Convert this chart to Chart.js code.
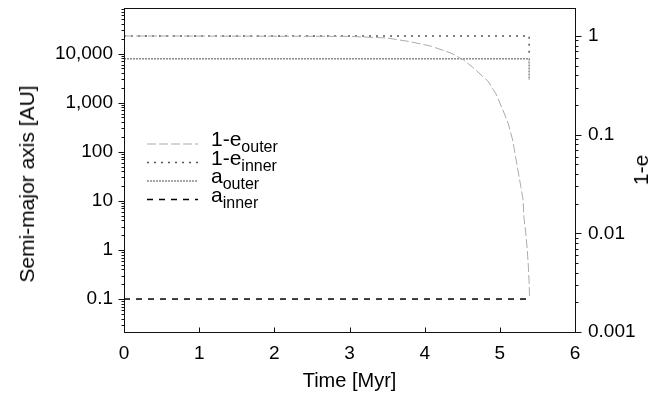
<!DOCTYPE html>
<html>
<head>
<meta charset="utf-8">
<script src="https://cdn.jsdelivr.net/npm/chart.js@4.4.1/dist/chart.umd.min.js"></script>
<style>
body{margin:0;background:#fff;}
#wrap{position:relative;width:663px;height:393px;font-family:'Liberation Sans',Arial,sans-serif;color:#000;}
.lg{position:absolute;left:211px;font-size:21px;line-height:21px;white-space:nowrap;}
.lg sub{font-size:16px;vertical-align:-6px;line-height:0;}
.vt{position:absolute;font-size:21px;white-space:nowrap;transform:translate(-50%,-50%) rotate(-90deg);}
#ytitle{left:27px;top:184px;}
#y2title{left:641px;top:170px;}
</style>
</head>
<body>
<div id="wrap">
<canvas id="myChart" width="663" height="393"></canvas>
<div class="vt" id="ytitle">Semi-major axis [AU]</div>
<div class="vt" id="y2title">1-e</div>
</div>
<script>
// time [Myr] and values
const eOuterT=[0,3.0,3.5,3.8,4.08,4.35,4.52,4.65,4.84,4.95,5.04,5.11,5.17,5.21,5.24,5.28,5.31,5.32,5.345,5.365,5.38,5.39,5.395];
const eOuter=[1.0,0.99,0.953,0.877,0.79,0.671,0.57,0.473,0.35,0.258,0.178,0.131,0.0884,0.0595,0.0439,0.0296,0.0218,0.0147,0.0101,0.00681,0.00458,0.00316,0.00222];
const eInnerT=[0,5.39,5.39];
const eInner=[1.0,1.0,0.6];
const aOuterT=[0,5.39,5.39];
const aOuter=[7900,7900,2900];
const aInnerT=[0,5.39];
const aInner=[0.1,0.1];

const xTicks=[0,1,2,3,4,5,6];
const yTicks=[0.1,1,10,100,1000,10000];
const y2Ticks=[0.001,0.01,0.1,1];

const legendMain=['1-e','1-e','a','a'];
const legendSub=['outer','inner','outer','inner'];
const legendRowY=[144,162.5,181,199.5];

function pts(t,v){return t.map((x,i)=>({x:x,y:v[i]}));}

const tickFont={family:"'Liberation Sans', Arial, sans-serif",size:19};
const titleFont={family:"'Liberation Sans', Arial, sans-serif",size:20};

const frameTicks={
  id:'frameTicks',
  afterDraw(chart){
    const ctx=chart.ctx, a=chart.chartArea;
    const L=Math.round(a.left)+0.5, R=Math.round(a.right)+0.5, T=Math.round(a.top)+0.5, B=Math.round(a.bottom)+0.5;
    ctx.save();
    ctx.strokeStyle='#111';
    ctx.lineWidth=1;
    ctx.strokeRect(L,T,R-L,B-T);
    ctx.beginPath();
    xTicks.forEach(v=>{
      const x=Math.round(chart.scales.x.getPixelForValue(v))+0.5;
      ctx.moveTo(x,B);ctx.lineTo(x,B-5);
    });
    function logTicks(scale,x0,dir){
      for(let k=-4;k<=5;k++){
        for(let m=1;m<=9;m++){
          const v=m*Math.pow(10,k);
          if(v<scale.min||v>scale.max) continue;
          const y=Math.round(scale.getPixelForValue(v))+0.5;
          ctx.moveTo(x0,y);ctx.lineTo(x0+dir*(m===1?6:3),y);
        }
      }
    }
    logTicks(chart.scales.y,L,-1);
    logTicks(chart.scales.y2,R,1);
    ctx.stroke();
    // legend samples
    chart.data.datasets.forEach((ds,i)=>{
      ctx.beginPath();
      ctx.strokeStyle=ds.borderColor;
      ctx.lineWidth=ds.borderWidth;
      ctx.setLineDash(ds.borderDash||[]);
      ctx.moveTo(147,legendRowY[i]);ctx.lineTo(198,legendRowY[i]);
      ctx.stroke();
    });
    ctx.restore();
  }
};

const wrap=document.getElementById('wrap');
legendMain.forEach((t,i)=>{
  const d=document.createElement('div');
  d.className='lg';
  d.style.top=(legendRowY[i]-16)+'px';
  d.innerHTML=t+'<sub>'+legendSub[i]+'</sub>';
  wrap.appendChild(d);
});

const ctx=document.getElementById('myChart').getContext('2d');
const myChart=new Chart(ctx,{
  type:'line',
  data:{
    datasets:[
      {label:'1-e outer',data:pts(eOuterT,eOuter),yAxisID:'y2',borderColor:'#ababab',borderWidth:1,borderDash:[9,3],pointRadius:0,tension:0},
      {label:'1-e inner',data:pts(eInnerT,eInner),yAxisID:'y2',borderColor:'#555',borderWidth:1.5,borderDash:[2,5],pointRadius:0,tension:0},
      {label:'a outer',data:pts(aOuterT,aOuter),yAxisID:'y',borderColor:'#8a8a8a',borderWidth:1.5,borderDash:[2,1],pointRadius:0,tension:0},
      {label:'a inner',data:pts(aInnerT,aInner),yAxisID:'y',borderColor:'#000',borderWidth:1.5,borderDash:[6,6],pointRadius:0,tension:0}
    ]
  },
  options:{
    responsive:false,
    animation:false,
    devicePixelRatio:1,
    layout:{padding:{top:8,left:0,right:0,bottom:0}},
    plugins:{legend:{display:false},tooltip:{enabled:false}},
    scales:{
      x:{
        type:'linear',min:0,max:6,
        grid:{display:false,drawTicks:false},border:{display:false},
        afterBuildTicks:s=>{s.ticks=xTicks.map(v=>({value:v}));},
        ticks:{font:tickFont,color:'#000',padding:10,maxRotation:0},
        title:{display:true,text:'Time [Myr]',font:titleFont,color:'#000',padding:{top:0,bottom:0}},
        afterFit:s=>{s.height=61;s.paddingLeft=0;s.paddingRight=0;}
      },
      y:{
        type:'logarithmic',position:'left',min:0.0213,max:85100,
        grid:{display:false,drawTicks:false},border:{display:false},
        afterBuildTicks:s=>{s.ticks=yTicks.map(v=>({value:v}));},
        ticks:{font:tickFont,color:'#000',padding:11,callback:v=>Number(v).toLocaleString('en-US')},
        afterFit:s=>{s.width=124;s.paddingTop=0;s.paddingBottom=0;}
      },
      y2:{
        type:'logarithmic',position:'right',min:0.001,max:1.92,
        grid:{display:false,drawTicks:false},border:{display:false},
        afterBuildTicks:s=>{s.ticks=y2Ticks.map(v=>({value:v}));},
        ticks:{font:tickFont,color:'#000',padding:13,callback:v=>String(v)},
        afterFit:s=>{s.width=88;s.paddingTop=0;s.paddingBottom=0;}
      }
    }
  },
  plugins:[frameTicks]
});
</script>
</body>
</html>
